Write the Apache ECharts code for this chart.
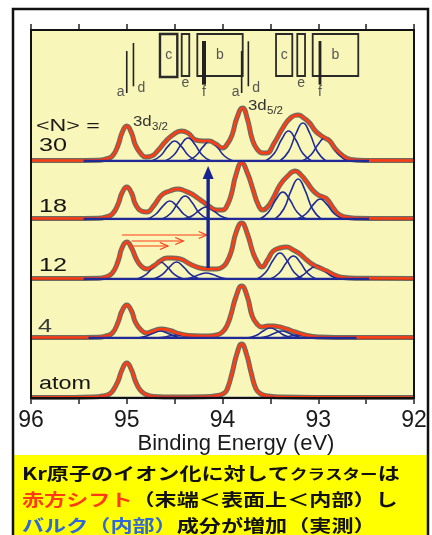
<!DOCTYPE html>
<html><head><meta charset="utf-8">
<script src="https://cdn.jsdelivr.net/npm/echarts@6/dist/echarts.min.js"></script>
<style>html,body{margin:0;padding:0;background:#fff}#c{width:432px;height:535px}</style>
</head><body><div id="c"></div>
<script>
// ---- data (binding energy eV, intensity in panel units) ----
const panelLabels = ['30', '18', '12', '4', 'atom'];
const tickValues = [96, 95, 94, 93, 92];
const tickLabels = ['96', '95', '94', '93', '92'];

const fit30 = [[96,0.5],[95.6,0.5],[95.3,0.8],[95.22,2],[95.15,5],[95.09,16],[95.05,28],[95.0,35],[94.95,28],[94.91,16],[94.85,7],[94.8,4],[94.74,5],[94.67,11],[94.6,19],[94.52,26],[94.43,30],[94.36,28],[94.28,21],[94.2,20],[94.14,20],[94.07,17],[94.0,13],[93.95,17],[93.9,26],[93.85,43],[93.79,53],[93.74,42],[93.69,22],[93.64,12],[93.58,8],[93.54,8],[93.46,18],[93.37,33],[93.29,43],[93.21,46],[93.15,43],[93.09,38],[93.03,30],[92.98,26],[92.93,23],[92.88,20],[92.82,12],[92.74,5],[92.66,1.5],[92.5,0.6],[92,0.5]];
const fit18 = [[96,0.5],[95.6,0.5],[95.3,0.8],[95.22,2],[95.15,5],[95.09,15],[95.05,26],[95.0,32],[94.95,26],[94.91,15],[94.85,8],[94.79,7],[94.72,13],[94.635,24],[94.55,28],[94.465,30],[94.39,28],[94.32,25],[94.26,21],[94.2,17],[94.13,12],[94.06,9],[94.0,9],[93.96,12],[93.91,24],[93.86,44],[93.8,56],[93.74,46],[93.68,29],[93.63,15],[93.58,9],[93.53,12],[93.47,21],[93.4,34],[93.32,43],[93.24,48],[93.18,44],[93.12,37],[93.06,29],[93.0,24],[92.95,22],[92.91,20],[92.85,12],[92.79,5],[92.72,2],[92.6,0.8],[92.3,0.5],[92,0.5]];
const fit12 = [[96,0.5],[95.6,0.5],[95.3,0.8],[95.22,2],[95.15,6],[95.09,18],[95.05,31],[95.0,37],[94.95,31],[94.9,20],[94.85,13],[94.79,10],[94.72,13],[94.65,18],[94.58,21],[94.53,21],[94.44,20],[94.34,15],[94.235,11],[94.15,10],[94.06,10],[94.0,12],[93.96,16],[93.91,27],[93.86,46],[93.8,56],[93.74,45],[93.68,26],[93.63,16],[93.59,12],[93.53,19],[93.47,28],[93.4,31],[93.33,32],[93.26,29],[93.19,25],[93.12,19],[93.05,14],[92.98,11],[92.91,8],[92.83,4],[92.74,1.5],[92.6,0.7],[92,0.5]];
const fit4 = [[96,0.5],[95.6,0.5],[95.3,0.8],[95.22,2],[95.15,5],[95.09,16],[95.05,27],[95.0,33],[94.95,27],[94.91,16],[94.85,8],[94.79,5],[94.72,7],[94.64,9],[94.55,7.5],[94.44,4],[94.3,2.2],[94.15,2],[94.06,3],[94.0,6],[93.95,13],[93.91,24],[93.86,41],[93.8,52],[93.74,41],[93.69,22],[93.64,14],[93.59,11],[93.53,12],[93.47,12],[93.4,11],[93.33,9],[93.24,6],[93.12,2.5],[93.0,1],[92.8,0.6],[92,0.5]];
const fitAtom = [[96,0.5],[95.6,0.6],[95.35,1],[95.25,2],[95.18,4],[95.14,8],[95.09,17],[95.05,28],[95.0,35],[94.95,28],[94.91,17],[94.86,8],[94.8,3.5],[94.72,1.5],[94.5,1],[94.2,1.2],[94.05,2.5],[93.98,5],[93.95,9],[93.9,25],[93.85,44],[93.8,54],[93.75,44],[93.7,25],[93.65,9],[93.6,4],[93.52,2],[93.4,1],[93.0,0.6],[92,0.5]];

const comps30 = [
  [[94.74,0],[94.65,5],[94.57,14.6],[94.50,20],[94.43,14.6],[94.35,5],[94.26,0]],
  [[94.60,0],[94.51,5.8],[94.43,16.8],[94.36,23],[94.29,16.8],[94.21,5.8],[94.12,0]],
  [[94.37,0],[94.28,5],[94.20,14.6],[94.13,20],[94.06,14.6],[93.98,5],[93.89,0]],
  [[93.55,0],[93.46,7.5],[93.38,22],[93.31,30],[93.24,22],[93.16,7.5],[93.07,0]],
  [[93.40,0],[93.31,9.5],[93.23,28],[93.16,38],[93.09,28],[93.01,9.5],[92.92,0]],
  [[93.17,0],[93.08,5.8],[93.00,16.8],[92.93,23],[92.86,16.8],[92.78,5.8],[92.69,0]]
];
const comps18 = [
  [[94.79,0],[94.70,4.5],[94.62,13.1],[94.55,18],[94.48,13.1],[94.40,4.5],[94.31,0]],
  [[94.63,0],[94.54,5.8],[94.46,16.8],[94.39,23],[94.32,16.8],[94.24,5.8],[94.15,0]],
  [[94.41,0],[94.32,3],[94.24,8.8],[94.17,12],[94.10,8.8],[94.02,3],[93.93,0]],
  [[93.61,0],[93.52,6.8],[93.44,19.7],[93.37,27],[93.30,19.7],[93.22,6.8],[93.13,0]],
  [[93.45,0],[93.36,10],[93.28,29.2],[93.21,40],[93.14,29.2],[93.06,10],[92.97,0]],
  [[93.22,0],[93.13,5],[93.05,14.6],[92.98,20],[92.91,14.6],[92.83,5],[92.74,0]]
];
const comps12 = [
  [[94.89,0],[94.80,4.3],[94.72,12.4],[94.65,17],[94.58,12.4],[94.50,4.3],[94.41,0]],
  [[94.72,0],[94.63,4.3],[94.55,12.4],[94.48,17],[94.41,12.4],[94.33,4.3],[94.24,0]],
  [[94.41,0],[94.32,1.5],[94.24,4.4],[94.17,6],[94.10,4.4],[94.02,1.5],[93.93,0]],
  [[93.64,0],[93.55,6.5],[93.47,19],[93.40,26],[93.33,19],[93.25,6.5],[93.16,0]],
  [[93.50,0],[93.41,5.8],[93.33,16.8],[93.26,23],[93.19,16.8],[93.11,5.8],[93.02,0]],
  [[93.26,0],[93.17,3.3],[93.09,9.5],[93.02,13],[92.95,9.5],[92.87,3.3],[92.78,0]]
];
const comps4 = [
  [[94.89,0],[94.80,1.8],[94.72,5.1],[94.65,7],[94.58,5.1],[94.50,1.8],[94.41,0]],
  [[94.71,0],[94.62,0.8],[94.54,2.2],[94.47,3],[94.40,2.2],[94.32,0.8],[94.23,0]],
  [[93.74,0],[93.65,2.5],[93.57,7.3],[93.50,10],[93.43,7.3],[93.35,2.5],[93.26,0]],
  [[93.62,0],[93.53,1.8],[93.45,5.1],[93.38,7],[93.31,5.1],[93.23,1.8],[93.14,0]],
  [[93.44,0],[93.35,0.8],[93.27,2.2],[93.20,3],[93.13,2.2],[93.05,0.8],[92.96,0]]
];
const compsAtom = [];

const baseline30 = [[95.45,0],[92.47,0]];
const baseline18 = [[95.45,0],[92.47,0]];
const baseline12 = [[95.45,0],[92.47,0]];
const baseline4 = [[95.4,0],[92.6,0]];
const baselineAtom = [[95.3,0],[93.45,0]];

// reference-line annotations (top panel): [label, E_left, E_right, yBottom, yTop]
const boxes = [['c',94.653,94.472,84,127],['e',94.426,94.347,85,127],['b',94.263,93.789,85,127],
               ['c',93.441,93.271,85,127],['e',93.219,93.138,85,127],['b',93.058,92.582,85,127]];
// [label, E, yBottom, yTop, labelSide]
const bars = [['a',95.0,68,110,'left'],['d',94.93,74.7,118,'right'],['f',94.193,76.3,120,'below'],
              ['a',93.80,68,110,'left'],['d',93.73,74.7,119.7,'right'],['f',92.982,76.3,120,'below']];
// arrows in panel "12": red [E_from, E_to, y], blue [E, yFrom, yTo]
const redArrows = [[95.05,94.165,44],[94.95,94.41,38],[94.95,94.57,33]];
const blueArrow = [[94.15,11,113]];

const fits = [fit30, fit18, fit12, fit4, fitAtom];
const comps = [comps30, comps18, comps12, comps4, compsAtom];
const baselines = [baseline30, baseline18, baseline12, baseline4, baselineAtom];

// ---- layout ----
const FONT = 'Liberation Sans, Arial, Helvetica, sans-serif';
const JP = '"Noto Sans CJK JP", sans-serif';
const gridBox = [[30,131],[161,58],[219,60],[279,59],[338,60]];
const RED = '#ff3c14', BLUE = '#1f2a96', DOT = '#4a4a4a';

const grids = gridBox.map(g => ({left:31, right:18, top:g[0], height:g[1], show:true,
  backgroundColor:'#f8f6b8', borderWidth:0}));
const xAxes = gridBox.map((g, i) => ({
  type:'value', gridIndex:i, min:92, max:96, interval:0.5, inverse:true,
  position: i === 0 ? 'top' : 'bottom',
  axisLine:{show:true, onZero:false, lineStyle:{color:'#111', width: (i===0||i===4) ? 2 : 1}},
  axisTick:{show: i===0 || i===4, inside:false, length:6, lineStyle:{color:'#222', width:1.5}},
  splitLine:{show:false},
  axisLabel:{show: i===4, margin:11, fontSize:23, color:'#1a1a1a', fontFamily:FONT,
    showMinLabel:true, showMaxLabel:true,
    formatter: v => { const k = tickValues.indexOf(v); return k >= 0 ? tickLabels[k] : ''; }},
  name: i===4 ? 'Binding Energy (eV)' : '', nameLocation:'middle', nameGap:26,
  nameTextStyle:{fontSize:22, color:'#1a1a1a', fontFamily:FONT, padding:[0,0,0,27]}
}));
const yAxes = gridBox.map((g, i) => ({type:'value', gridIndex:i, min:0, max:g[1], show:false}));

const series = [];
fits.forEach((f, i) => {
  series.push({type:'line', xAxisIndex:i, yAxisIndex:i, data:f, smooth:0.5,
    symbol:'none', lineStyle:{color:DOT, width:5, opacity:0.8, join:'round'}, z:2, silent:true});
  comps[i].forEach(c => series.push({type:'line', xAxisIndex:i, yAxisIndex:i, data:c, smooth:0.5,
    symbol:'none', lineStyle:{color:BLUE, width:1.6}, z:3, silent:true}));
  series.push({type:'line', xAxisIndex:i, yAxisIndex:i, data:f, smooth:0.5,
    symbol:'none', lineStyle:{color:RED, width:2.6, join:'round'}, z:4, silent:true});
  series.push({type:'line', xAxisIndex:i, yAxisIndex:i, data:baselines[i], symbol:'none',
    lineStyle:{color:BLUE, width:2.5}, z:5, silent:true});
});

function txt(x, y, text, size, color, align, extra) {
  return Object.assign({type:'text', x:x, y:y, style:{text:text, fill:color, fontSize:size,
    fontFamily:FONT, align:align||'center', textAlign:align||'center', verticalAlign:'middle', textVerticalAlign:'middle'}}, extra||{});
}

// annotation boxes
series.push({type:'custom', xAxisIndex:0, yAxisIndex:0, clip:false, z:6, silent:true,
  data: boxes.map(b => [b[1], b[2], b[3], b[4]]),
  renderItem: (p, api) => {
    const b = boxes[p.dataIndex];
    const p1 = api.coord([b[1], b[4]]), p2 = api.coord([b[2], b[3]]);
    const x = Math.min(p1[0],p2[0]), w = Math.abs(p2[0]-p1[0]);
    const y = Math.min(p1[1],p2[1]), h = Math.abs(p2[1]-p1[1]);
    const below = b[0] === 'e';
    return {type:'group', children:[
      {type:'rect', shape:{x:x, y:y, width:w, height:h}, style:{fill:'none', stroke:'#2a2a2a', lineWidth: b[0]==='c' && p.dataIndex===0 ? 2.4 : 1.8}},
      txt(x + w/2, below ? y + h + 7 : y + h/2, b[0], 14, '#555')
    ]};
  }});
// annotation bars
series.push({type:'custom', xAxisIndex:0, yAxisIndex:0, clip:false, z:7, silent:true,
  data: bars.map(b => [b[1], b[2], b[3]]),
  renderItem: (p, api) => {
    const b = bars[p.dataIndex];
    const top = api.coord([b[1], b[3]]), bot = api.coord([b[1], b[2]]);
    const thick = b[0] === 'f' ? (p.dataIndex === 2 ? 4 : 2.8) : 1.6;
    let lx = bot[0], ly = bot[1] + 7;
    if (b[4] === 'left') { lx = bot[0] - 6; ly = bot[1] - 1; }
    if (b[4] === 'right') { lx = bot[0] + 4; ly = bot[1] + 2; }
    return {type:'group', children:[
      {type:'line', shape:{x1:top[0], y1:top[1], x2:bot[0], y2:bot[1]}, style:{stroke:'#222', lineWidth:thick}},
      txt(lx, ly, b[0], 14, '#555', b[4]==='right' ? 'left' : 'center')
    ]};
  }});
// red arrows (panel 12)
series.push({type:'custom', xAxisIndex:2, yAxisIndex:2, clip:false, z:8, silent:true,
  data: redArrows,
  renderItem: (p, api) => {
    const a = redArrows[p.dataIndex];
    const s = api.coord([a[0], a[2]]), e = api.coord([a[1], a[2]]);
    return {type:'group', children:[
      {type:'line', shape:{x1:s[0], y1:s[1], x2:e[0], y2:e[1]}, style:{stroke:RED, lineWidth:1.2}},
      {type:'polyline', shape:{points:[[e[0]-8, e[1]-3.5],[e[0], e[1]],[e[0]-8, e[1]+3.5]]}, style:{stroke:RED, lineWidth:1.2, fill:'none'}}
    ]};
  }});
// blue arrow (crosses panels 12 -> 18)
series.push({type:'custom', xAxisIndex:2, yAxisIndex:2, clip:false, z:8, silent:true,
  data: blueArrow,
  renderItem: (p, api) => {
    const a = blueArrow[p.dataIndex];
    const s = api.coord([a[0], a[1]]), e = api.coord([a[0], a[2]]);
    return {type:'group', children:[
      {type:'line', shape:{x1:s[0], y1:s[1], x2:e[0], y2:e[1] + 10}, style:{stroke:'#17248f', lineWidth:3.4}},
      {type:'polygon', shape:{points:[[e[0], e[1]],[e[0]-5.5, e[1]+13],[e[0]+5.5, e[1]+13]]}, style:{fill:'#17248f'}}
    ]};
  }});

// ---- text / frame graphics ----
const panelLabelY = [146.5, 207.5, 266, 327.5, 384];
const graphics = [
  {type:'rect', shape:{x:13, y:455, width:415, height:82}, style:{fill:'#ffff00'}, z:0},
  {type:'rect', shape:{x:13, y:9, width:415, height:540}, style:{fill:'none', stroke:'#111', lineWidth:2.5}, z:50},
  {type:'rect', shape:{x:31, y:30, width:383, height:368}, style:{fill:'none', stroke:'#111', lineWidth:2}, z:50},
  {type:'text', x:36, y:127, scaleX:1.45, style:{text:'<N> =', fill:'#1a1a1a', fontSize:16, fontFamily:FONT, align:'left', textAlign:'left', verticalAlign:'middle', textVerticalAlign:'middle'}, z:60},
  {type:'text', x:133, y:122.5, scaleX:1.2, style:{text:'3d', fill:'#333', fontSize:14, fontFamily:FONT, align:'left', textAlign:'left', verticalAlign:'middle', textVerticalAlign:'middle'}, z:60},
  {type:'text', x:152, y:127.5, scaleX:1.15, style:{text:'3/2', fill:'#333', fontSize:10, fontFamily:FONT, align:'left', textAlign:'left', verticalAlign:'middle', textVerticalAlign:'middle'}, z:60},
  {type:'text', x:248, y:106.5, scaleX:1.2, style:{text:'3d', fill:'#333', fontSize:14, fontFamily:FONT, align:'left', textAlign:'left', verticalAlign:'middle', textVerticalAlign:'middle'}, z:60},
  {type:'text', x:267, y:111.5, scaleX:1.15, style:{text:'5/2', fill:'#333', fontSize:10, fontFamily:FONT, align:'left', textAlign:'left', verticalAlign:'middle', textVerticalAlign:'middle'}, z:60}
];
panelLabels.forEach((l, i) => graphics.push({type:'text', x: l==='4' ? 38 : 39, y:panelLabelY[i], scaleX: l==='atom' ? 1.3 : 1.4,
  style:{text:l, fill: l==='4' ? '#3a3a3a' : '#151515', fontSize:18, fontFamily:FONT, align:'left', textAlign:'left', verticalAlign:'middle', textVerticalAlign:'middle'}, z:60}));

const jpLines = [
  {y:473.5, text:'Kr原子のイオン化に対して{s|クラスター}は'},
  {y:500, text:'{r|赤方シフト}（末端＜表面上＜内部）し'},
  {y:525.5, text:'{b|バルク（内部）}成分が増加（実測）'}
];
jpLines.forEach(L => graphics.push({type:'text', x:22, y:L.y, scaleX:1.3, z:60,
  style:{text:L.text, fill:'#111', fontSize:17, fontWeight:'bold', fontFamily:JP, align:'left', textAlign:'left', verticalAlign:'middle', textVerticalAlign:'middle',
    rich:{
      s:{fontSize:13.5, fontWeight:'bold', fontFamily:JP, fill:'#111', color:'#111'},
      r:{fontSize:17, fontWeight:'bold', fontFamily:JP, fill:'#ff3a14', color:'#ff3a14'},
      b:{fontSize:17, fontWeight:'bold', fontFamily:JP, fill:'#2f68d8', color:'#2f68d8'}
    }}}));

const chart = echarts.init(document.getElementById('c'), null, {renderer:'canvas'});
chart.setOption({
  backgroundColor:'#ffffff', animation:false,
  grid: grids, xAxis: xAxes, yAxis: yAxes, series: series, graphic: graphics
});
</script></body></html>
